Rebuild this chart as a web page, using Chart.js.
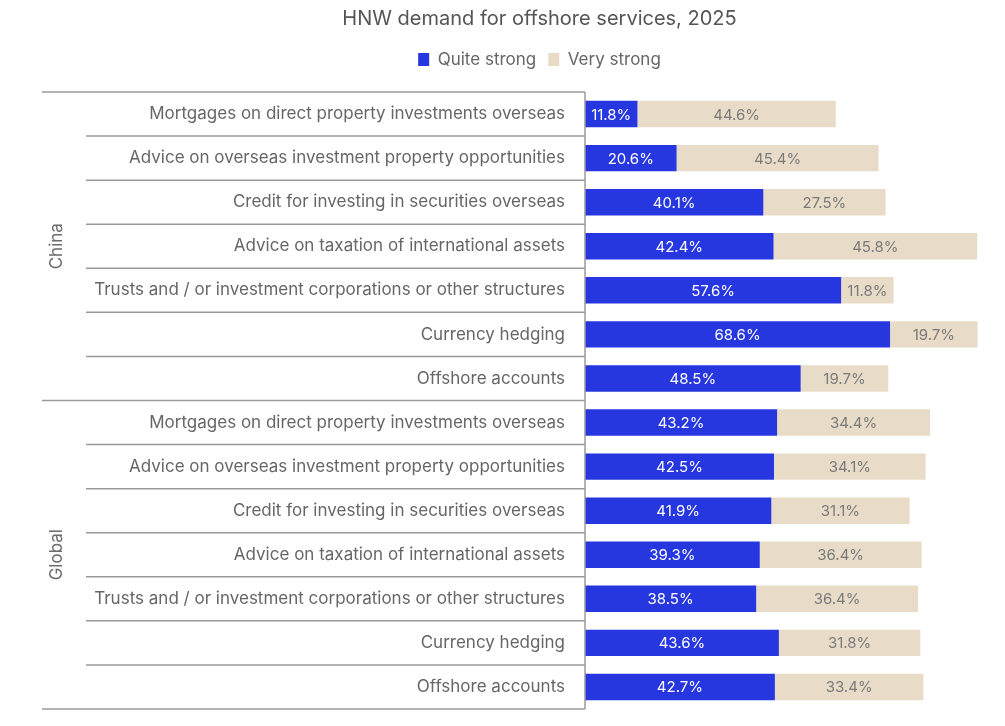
<!DOCTYPE html>
<html>
<head>
<meta charset="utf-8">
<script src="https://cdn.jsdelivr.net/npm/chart.js@4"></script>
<style>
  html, body { margin: 0; padding: 0; background: #fff; }
  #wrap { width: 1005px; height: 726px; }
</style>
</head>
<body>
<div id="wrap"><canvas id="grafico"></canvas></div>
<script>
const groups = ["China", "Global"];
const services = [
    "Mortgages on direct property investments overseas",
    "Advice on overseas investment property opportunities",
    "Credit for investing in securities overseas",
    "Advice on taxation of international assets",
    "Trusts and / or investment corporations or other structures",
    "Currency hedging",
    "Offshore accounts"
];
const rotulos = services.concat(services);

const quiteStrong = [11.8, 20.6, 40.1, 42.4, 57.6, 68.6, 48.5,
                     43.2, 42.5, 41.9, 39.3, 38.5, 43.6, 42.7];
const veryStrong  = [44.6, 45.4, 27.5, 45.8, 11.8, 19.7, 19.7,
                     34.4, 34.1, 31.1, 36.4, 36.4, 31.8, 33.4];

const FONTE = "Inter, 'Noto Sans', sans-serif";
const COR_LINHA = '#9a9a9a';

// rótulos de valor dentro das barras
const rotulosValor = {
    id: 'rotulosValor',
    afterDatasetsDraw(chart) {
        const ctx = chart.ctx;
        ctx.save();
        ctx.font = '15px ' + FONTE;
        ctx.textAlign = 'center';
        ctx.textBaseline = 'middle';
        chart.data.datasets.forEach((ds, di) => {
            ctx.fillStyle = di === 0 ? '#ffffff' : '#7a7a7a';
            chart.getDatasetMeta(di).data.forEach((bar, i) => {
                const p = bar.getProps(['x', 'y', 'base'], true);
                ctx.fillText(ds.data[i].toFixed(1) + '%', (p.x + p.base) / 2, p.y + 1);
            });
        });
        ctx.restore();
    }
};

// linhas separadoras e rótulos dos grupos
const separadores = {
    id: 'separadores',
    afterDraw(chart) {
        const ctx = chart.ctx;
        const y = chart.scales.y;
        const area = chart.chartArea;
        const passo = y.getPixelForValue(1) - y.getPixelForValue(0);
        ctx.save();
        ctx.strokeStyle = COR_LINHA;
        ctx.lineWidth = 1.5;
        for (let i = 0; i <= rotulos.length; i++) {
            const yy = y.getPixelForValue(i) - passo / 2;
            const x0 = (i % services.length === 0) ? 42 : 86;
            ctx.beginPath();
            ctx.moveTo(x0, yy);
            ctx.lineTo(area.left, yy);
            ctx.stroke();
        }
        const topo = y.getPixelForValue(0) - passo / 2;
        const fundo = y.getPixelForValue(rotulos.length - 1) + passo / 2;
        ctx.beginPath();
        ctx.moveTo(area.left, topo);
        ctx.lineTo(area.left, fundo);
        ctx.stroke();

        ctx.fillStyle = '#6b6b6b';
        ctx.font = '17px ' + FONTE;
        ctx.textAlign = 'center';
        ctx.textBaseline = 'middle';
        groups.forEach((g, gi) => {
            const a = y.getPixelForValue(gi * services.length) - passo / 2;
            const b = y.getPixelForValue((gi + 1) * services.length - 1) + passo / 2;
            ctx.save();
            ctx.translate(57, (a + b) / 2);
            ctx.rotate(-Math.PI / 2);
            ctx.fillText(g, 0, 0);
            ctx.restore();
        });
        ctx.restore();
    }
};

// espaço extra abaixo da legenda
const espacoLegenda = {
    id: 'espacoLegenda',
    beforeInit(chart) {
        const fitOriginal = chart.legend.fit;
        chart.legend.fit = function () {
            fitOriginal.bind(chart.legend)();
            this.height += 14;
        };
    }
};

const ctx = document.getElementById('grafico').getContext('2d');

let grafico = new Chart(ctx, {
    type: 'bar',
    data: {
        labels: rotulos,
        datasets: [{
            label: 'Quite strong',
            data: quiteStrong,
            backgroundColor: '#2637e0'
        }, {
            label: 'Very strong',
            data: veryStrong,
            backgroundColor: '#e8dcc8'
        }]
    },
    options: {
        indexAxis: 'y',
        responsive: true,
        maintainAspectRatio: false,
        animation: false,
        layout: {
            padding: { left: 76, right: 2, top: 0, bottom: 17 }
        },
        datasets: {
            bar: {
                categoryPercentage: 1,
                barPercentage: 0.6
            }
        },
        plugins: {
            title: {
                display: true,
                text: 'HNW demand for offshore services, 2025',
                color: '#555',
                font: { family: FONTE, size: 20, weight: 'normal' },
                padding: { top: 7, bottom: 8 }
            },
            legend: {
                position: 'top',
                labels: {
                    color: '#666',
                    font: { family: FONTE, size: 17 },
                    boxWidth: 11,
                    boxHeight: 13,
                    padding: 12
                }
            },
            tooltip: { enabled: false }
        },
        scales: {
            x: {
                stacked: true,
                min: 0,
                max: 94,
                display: false
            },
            y: {
                stacked: true,
                grid: { display: false },
                border: { display: false },
                ticks: {
                    color: '#666',
                    font: { family: FONTE, size: 17 },
                    padding: 12
                },
                afterFit(scale) {
                    scale.width = 509;
                    scale.paddingTop = 0;
                    scale.paddingBottom = 0;
                }
            }
        }
    },
    plugins: [rotulosValor, separadores, espacoLegenda]
});
</script>
</body>
</html>
